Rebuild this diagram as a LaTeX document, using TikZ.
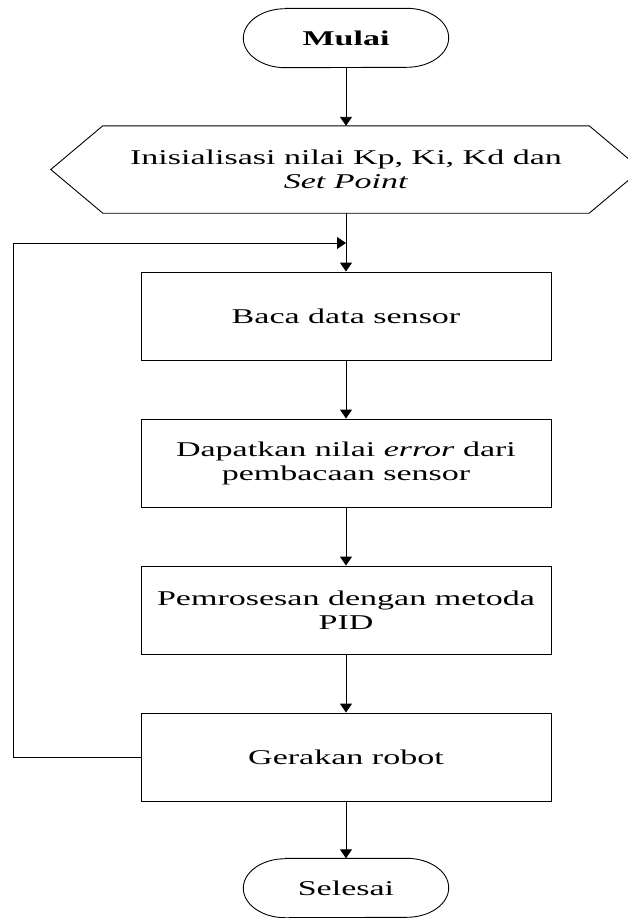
\documentclass[tikz,border=0pt]{standalone}
\usepackage{fontspec}
\setmainfont{Liberation Serif}
\usetikzlibrary{arrows.meta,calc}
\newcommand\wide[1]{\scalebox{1.62}[1]{#1}}
\begin{document}
\begin{tikzpicture}[x=1pt,y=-1pt,
  every node/.style={font=\fontsize{21}{24}\selectfont, align=center, inner sep=0pt},
  terminal/.style={minimum width=205pt, minimum height=59pt},
  procbox/.style={draw, line width=0.9pt, minimum width=410pt, minimum height=88pt},
  arr/.style={line width=0.9pt, -{Triangle[length=9pt,width=12pt]}},
  outline/.style={line width=0.9pt}]
\useasboundingbox (0,0) rectangle (627,918);

\node[terminal, font=\fontsize{21}{24}\selectfont\bfseries] (mulai) at (346,38) {\wide{Mulai}};
\draw[outline] ($(mulai.north west)+(42,0)$) -- ($(mulai.north east)+(-42,0)$)
  arc[start angle=90, end angle=-90, x radius=42pt, y radius=29.5pt]
  -- ($(mulai.south west)+(42,0)$)
  arc[start angle=270, end angle=90, x radius=42pt, y radius=29.5pt] -- cycle;

\node[minimum width=590pt, minimum height=87pt] (init) at (346,169.5) {\wide{Inisialisasi nilai Kp, Ki, Kd dan}\\\wide{\textit{Set Point}}};
\draw[outline] (init.west) -- ($(init.north west)+(52,0)$) -- ($(init.north east)+(-52,0)$) -- (init.east)
  -- ($(init.south east)+(-52,0)$) -- ($(init.south west)+(52,0)$) -- cycle;

\node[procbox] (b1) at (346,316) {\wide{Baca data sensor}};
\node[procbox] (b2) at (346,463) {\wide{Dapatkan nilai \textit{error} dari}\\\wide{pembacaan sensor}};
\node[procbox] (b3) at (346,610) {\wide{Pemrosesan dengan metoda}\\\wide{PID}};
\node[procbox] (b4) at (346,757) {\wide{Gerakan robot}};

\node[terminal] (selesai) at (346,888) {\wide{Selesai}};
\draw[outline] ($(selesai.north west)+(42,0)$) -- ($(selesai.north east)+(-42,0)$)
  arc[start angle=90, end angle=-90, x radius=42pt, y radius=29.5pt]
  -- ($(selesai.south west)+(42,0)$)
  arc[start angle=270, end angle=90, x radius=42pt, y radius=29.5pt] -- cycle;

\coordinate (lp) at (346,243);
\coordinate (lx) at (13,0);

\draw[arr] (mulai.south) -- (init.south |- init.north);
\draw[arr] (init.south) -- (b1.north);
\draw[arr] (b1.south) -- (b2.north);
\draw[arr] (b2.south) -- (b3.north);
\draw[arr] (b3.south) -- (b4.north);
\draw[arr] (b4.south) -- (selesai.north);
\draw[arr] (b4.west) -- (b4.west -| lx) |- (lp);
\end{tikzpicture}
\end{document}
